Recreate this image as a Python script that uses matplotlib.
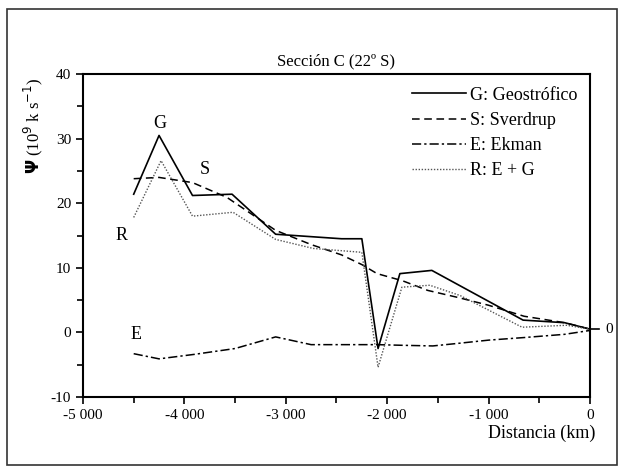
import matplotlib.pyplot as plt
from matplotlib.patches import Rectangle
from matplotlib.ticker import FixedLocator, FuncFormatter

plt.rcParams['font.family'] = ['Liberation Serif', 'DejaVu Serif']
plt.rcParams['axes.unicode_minus'] = False

# distance (km) and transport values
g_x = [-4500, -4250, -3920, -3530, -3100, -2450, -2250, -2090, -1875, -1560, -660, -250, 0]
g_y = [21.4, 30.5, 21.2, 21.4, 15.2, 14.5, 14.5, -2.5, 9.1, 9.6, 1.9, 1.5, 0.5]

s_x = [-4500, -4250, -3920, -3580, -3100, -2750, -2450, -2250, -2100, -1850, -1600, -1300, -1000, -650, -250, 0]
s_y = [23.8, 24.0, 23.2, 20.9, 15.8, 13.6, 12.0, 10.5, 9.1, 8.0, 6.5, 5.4, 4.2, 2.5, 1.5, 0.5]

e_x = [-4500, -4250, -3900, -3500, -3100, -2750, -2400, -2100, -1850, -1550, -1300, -1000, -650, -250, 0]
e_y = [-3.3, -4.1, -3.4, -2.5, -0.7, -1.9, -1.9, -1.9, -2.0, -2.1, -1.7, -1.2, -0.8, -0.3, 0.3]

r_x = [-4500, -4230, -3920, -3520, -3100, -2730, -2250, -2090, -1855, -1580, -1280, -670, -230, 0]
r_y = [17.8, 26.6, 18.0, 18.6, 14.4, 13.0, 12.4, -5.4, 7.0, 7.3, 5.7, 0.8, 1.1, 0.5]

x_ticks = [-5000, -4000, -3000, -2000, -1000, 0]
y_ticks = [-10, 0, 10, 20, 30, 40]

fig = plt.figure(figsize=(6.24, 4.72), dpi=100)
ax = fig.add_axes([0.133, 0.159, 0.8125, 0.684])

ax.plot(g_x, g_y, color='black', lw=1.2, label='G: Geostrófico')
ax.plot(s_x, s_y, color='black', lw=1.1, dashes=(5, 3), label='S: Sverdrup')
ax.plot(e_x, e_y, color='black', lw=1.1, dashes=(6, 2, 1.5, 2), label='E: Ekman')
ax.plot(r_x, r_y, color='#555555', lw=1.0, ls=(0, (1, 1.2)), label='R: E + G')

ax.set_xlim(-5000, 0)
ax.set_ylim(-10, 40)
ax.xaxis.set_major_locator(FixedLocator(x_ticks))
ax.xaxis.set_minor_locator(FixedLocator([-4500, -3500, -2500, -1500, -500]))
ax.yaxis.set_major_locator(FixedLocator(y_ticks))
ax.yaxis.set_minor_locator(FixedLocator([-5, 5, 15, 25, 35]))
ax.xaxis.set_major_formatter(FuncFormatter(lambda v, p: f"{int(v):,}".replace(",", " ")))
ax.tick_params(which='both', direction='out', width=1.2, labelsize=11)
ax.tick_params(which='major', length=5)
ax.tick_params(which='minor', length=4)
for sp in ax.spines.values():
    sp.set_linewidth(1.5)

# right-hand "0" marker
ax.plot([0, 90], [0.5, 0.5], color='black', lw=1.2, clip_on=False)
ax.text(150, 0.5, '0', fontsize=11, va='center', ha='left')

ax.text(-4240, 31.0, 'G', fontsize=13, ha='center', va='bottom')
ax.text(-3800, 25.2, 'S', fontsize=13, ha='center', va='center')
ax.text(-4620, 15.0, 'R', fontsize=13, ha='center', va='center')
ax.text(-4480, -0.3, 'E', fontsize=13, ha='center', va='center')

ax.set_title('Sección C (22º S)', fontsize=12, pad=6)
ax.set_xlabel('Distancia (km)', fontsize=13, ha='right', x=1.01, labelpad=2)
ax.set_ylabel(r'$\mathbf{\Psi}$ (10$^{9}$ k s$^{-1}$)', fontsize=12, labelpad=2)
ax.yaxis.set_label_coords(-0.075, 0.84)

ax.legend(loc='upper right', frameon=False, fontsize=13, handlelength=3.0,
          handletextpad=0.2, labelspacing=0.45, borderaxespad=0.3)

fig.patches.append(Rectangle((0.011, 0.015), 0.978, 0.966, transform=fig.transFigure,
                             fill=False, edgecolor='#333333', lw=1.2))

fig.savefig('out.png', dpi=100)
